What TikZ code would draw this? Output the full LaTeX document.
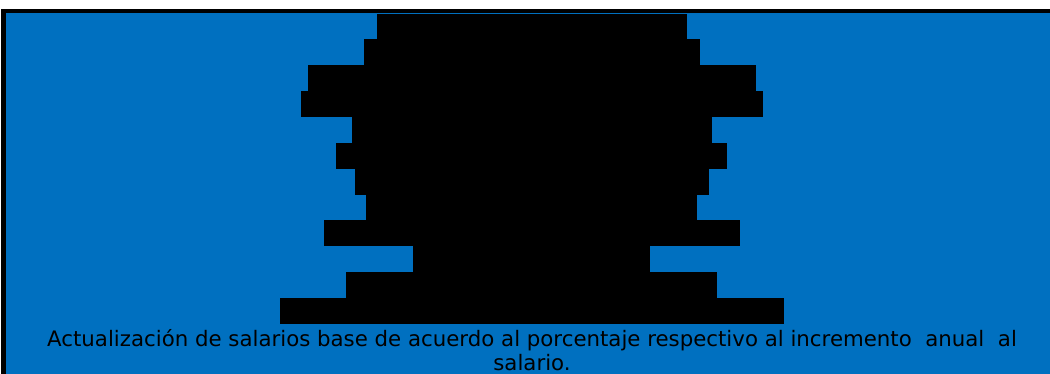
\documentclass[tikz,border=0pt]{standalone}
\usepackage{fontspec}
\newfontfamily\textofont{DejaVu Sans}
\usepackage{tikz}
\usetikzlibrary{positioning}
\definecolor{azul}{HTML}{0070C0}

\begin{document}
\begin{tikzpicture}[x=1pt,y=-1pt]
  \useasboundingbox (0,0) rectangle (1050,374);
  \fill[white] (0,0) rectangle (1050,374);
  \fill[azul] (6,13) rectangle (1050,374);
  \fill[black] (1,9) rectangle (1050,13);
  \fill[black] (1,9) rectangle (6,374);
  % barras
  \fill[black] (377,14) rectangle (687,39);
  \fill[black] (364,39) rectangle (700,65);
  \fill[black] (308,65) rectangle (756,91);
  \fill[black] (301,91) rectangle (763,117);
  \fill[black] (352,117) rectangle (712,143);
  \fill[black] (336,143) rectangle (727,169);
  \fill[black] (355,169) rectangle (709,195);
  \fill[black] (366,195) rectangle (697,220);
  \fill[black] (324,220) rectangle (740,246);
  \fill[black] (413,246) rectangle (650,272);
  \fill[black] (346,272) rectangle (717,298);
  \fill[black] (280,298) rectangle (784,324);
  \node[anchor=base, align=center, inner sep=0pt,
    font=\textofont\fontsize{21.3}{24}\selectfont] (leyenda) at (532,370)
    {Actualización de salarios base de acuerdo al porcentaje respectivo al incremento\ \ anual\ \ al\\salario.};
\end{tikzpicture}
\end{document}
